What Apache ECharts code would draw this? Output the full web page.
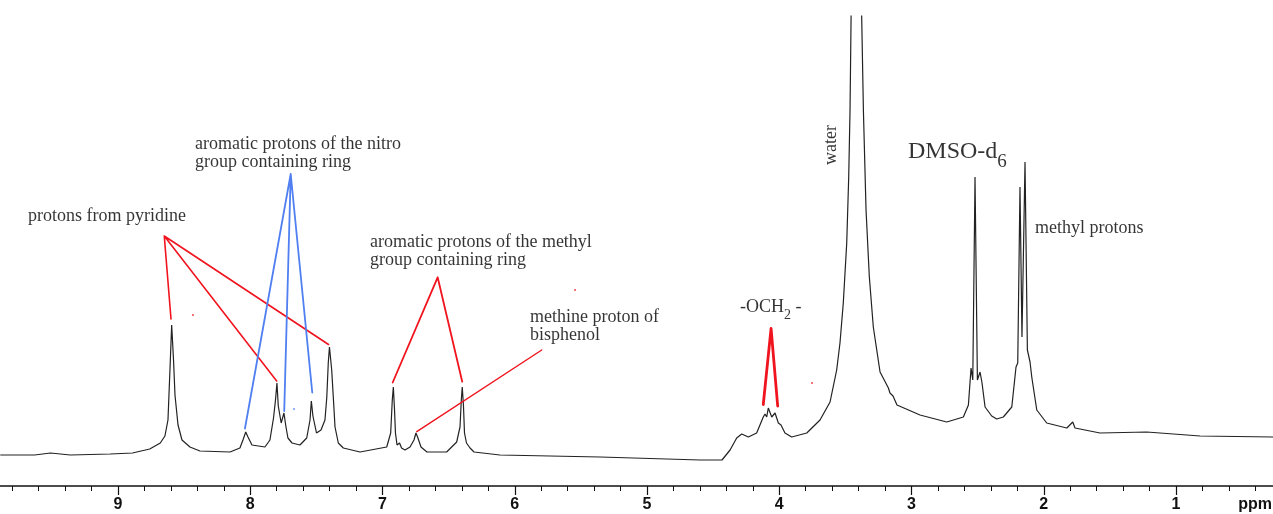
<!DOCTYPE html>
<html>
<head>
<meta charset="utf-8">
<script src="https://cdn.jsdelivr.net/npm/echarts@6/dist/echarts.min.js"></script>
<style>
  html, body { margin: 0; padding: 0; background: #fff; }
  #chart { width: 1273px; height: 514px; }
</style>
</head>
<body>
<div id="chart"></div>
<script>
// chemical shift (ppm) and signal height
const shift = [
  9.89, 9.63, 9.51, 9.36, 9.06, 8.89, 8.76, 8.68, 8.645, 8.622, 8.607, 8.594, 8.580, 8.569, 8.546, 8.516, 8.456, 8.38,
  8.153, 8.078, 8.055, 8.034, 8.017, 7.987, 7.889, 7.851, 7.824, 7.809, 7.798, 7.788, 7.779, 7.766, 7.745, 7.731,
  7.715, 7.684, 7.624, 7.573, 7.548, 7.538, 7.526, 7.499, 7.465, 7.435, 7.421, 7.410, 7.401, 7.384, 7.372, 7.359,
  7.334, 7.296, 7.17, 6.968, 6.938, 6.926, 6.918, 6.909, 6.902, 6.890, 6.871, 6.856, 6.830, 6.792, 6.762, 6.747,
  6.732, 6.709, 6.664, 6.515, 6.439, 6.414, 6.404, 6.397, 6.388, 6.380, 6.365, 6.353, 6.338, 6.308, 6.112, 5.355,
  4.599, 4.433, 4.372, 4.322, 4.284, 4.234, 4.171, 4.121, 4.108, 4.095, 4.083, 4.057, 4.032, 4.007, 3.987, 3.957,
  3.906, 3.792, 3.692, 3.616, 3.566, 3.541, 3.516, 3.490, 3.475, 3.465, 3.457, 3.420, 3.377, 3.364, 3.344, 3.319,
  3.289, 3.238, 3.175, 3.163, 3.140, 3.110, 2.936, 2.734, 2.608, 2.570, 2.550, 2.537, 2.520, 2.502, 2.482, 2.467,
  2.444, 2.394, 2.356, 2.306, 2.242, 2.210, 2.197, 2.180, 2.165, 2.142, 2.124, 2.104, 2.091, 2.053, 1.978, 1.826,
  1.781, 1.764, 1.575, 1.222, 0.818, 0.267
];
const signal = [
  31, 31, 33, 31, 32, 33, 37, 43, 50, 66, 116, 161, 126, 91, 61, 46, 39, 35,
  34, 38, 46, 54, 49, 41, 39, 46, 68, 86, 103, 80, 82, 63, 73, 60,
  48, 43, 41, 48, 66, 85, 70, 53, 56, 66, 89, 123, 139, 116, 89, 59,
  43, 38, 34, 39, 53, 86, 99, 76, 53, 41, 43, 38, 36, 39, 46, 53,
  48, 39, 34, 34, 44, 59, 86, 99, 81, 53, 43, 45, 38, 34, 31, 29,
  26, 26, 36, 48, 52, 49, 53, 69, 72, 69, 78, 69, 73, 63, 61, 53,
  49, 53, 66, 84, 116, 143, 183, 243, 309, 376, 470, 690, 470, 376, 276, 209,
  159, 114, 98, 93, 90, 81, 71, 64, 69, 81, 118, 106, 309, 106, 114, 103,
  79, 70, 67, 69, 79, 119, 123, 299, 149, 324, 136, 124, 109, 76, 63, 58,
  64, 58, 53, 54, 50, 49
];

// axis ticks
const majorTicks = [1, 2, 3, 4, 5, 6, 7, 8, 9];
const minorTicks = [
  0.4, 0.6, 0.8, 1.0, 1.2, 1.4, 1.6, 1.8, 2.0, 2.2, 2.4, 2.6, 2.8, 3.0, 3.2, 3.4, 3.6, 3.8, 4.0, 4.2, 4.4, 4.6, 4.8, 5.0,
  5.2, 5.4, 5.6, 5.8, 6.0, 6.2, 6.4, 6.6, 6.8, 7.0, 7.2, 7.4, 7.6, 7.8, 8.0, 8.2, 8.4, 8.6, 8.8, 9.0, 9.2, 9.4, 9.6, 9.8
];

// annotation leaders: [ppm, height] pairs, each fan returns to its apex
const pyridineLeaders = [[8.650, 250], [8.599, 167], [8.650, 250], [7.800, 105], [8.650, 250], [7.408, 141.5]];
const nitroLeaders = [[7.694, 312], [8.040, 57.5], [7.694, 312], [7.743, 75], [7.694, 312], [7.531, 93.5]];
const methylRingLeaders = [[6.583, 208.7], [6.923, 103.5], [6.583, 208.7], [6.397, 104.3]];
const methineLeader = [[5.796, 136], [6.741, 54.3]];
const och2Leaders = [[4.062, 157.7], [4.121, 81.5], [4.062, 157.7], [4.012, 80]];
const redSpecks = [[8.433, 171], [5.544, 196], [3.752, 103]];
const blueSpecks = [[7.669, 77]];

// annotation texts and where they sit
const notes = [
  { text: 'protons from pyridine', at: [9.681, 270] },
  { text: 'aromatic protons of the nitro\ngroup containing ring', at: [8.418, 333] },
  { text: 'aromatic protons of the methyl\ngroup containing ring', at: [7.095, 235] },
  { text: 'methine proton of\nbisphenol', at: [5.885, 160] },
  { text: '{m|-OCH}{s|2}{m| -}', at: [4.297, 178] },
  { text: '{b|DMSO-d}{t|6}', at: [3.027, 333] },
  { text: 'methyl protons', at: [2.066, 258] }
];
const waterNote = { text: 'water', at: [3.605, 341] };

const RED = '#f0141e';
const BLUE = '#4f7ff0';
const INK = '#000';
const SERIF = 'Liberation Serif';

const chart = echarts.init(document.getElementById('chart'));

function leader(data, color, width) {
  return {
    type: 'line', data: data, symbol: 'none', silent: true, z: 3,
    lineStyle: { color: color, width: width, cap: 'round', join: 'round' }
  };
}

const xBase = {
  type: 'value', inverse: true, min: 0.267, max: 9.892, position: 'bottom',
  splitLine: { show: false }
};

chart.setOption({
  animation: false,
  backgroundColor: '#fff',
  grid: { left: 0, right: 0, top: 16, bottom: 28, outerBoundsMode: 'none' },
  xAxis: [
    Object.assign({}, xBase, {
      axisLine: { show: true, lineStyle: { color: '#111', width: 1.5 } },
      axisTick: { show: true, customValues: minorTicks, length: 5, lineStyle: { color: '#111', width: 1 } },
      axisLabel: { show: false }
    }),
    Object.assign({}, xBase, {
      axisLine: { show: false },
      axisTick: { show: true, customValues: majorTicks, length: 9, lineStyle: { color: '#111', width: 1.2 } },
      axisLabel: {
        show: true, customValues: majorTicks, margin: 11,
        color: '#111', fontFamily: 'Liberation Sans', fontWeight: 'bold', fontSize: 16
      }
    })
  ],
  yAxis: { type: 'value', min: 0, max: 470, show: false },
  graphic: [{
    type: 'text', right: 1, top: 497,
    style: { text: 'ppm', fill: '#111', font: 'bold 16px "Liberation Sans"' }
  }],
  series: [
    {
      type: 'line', name: 'spectrum', clip: true, symbol: 'none', silent: true, z: 2,
      data: shift.map((p, i) => [p, signal[i]]),
      lineStyle: { color: '#222', width: 1.2 }
    },
    leader(pyridineLeaders, RED, 1.6),
    leader(nitroLeaders, BLUE, 1.8),
    leader(methylRingLeaders, RED, 1.8),
    leader(methineLeader, RED, 1.4),
    leader(och2Leaders, RED, 2.8),
    {
      type: 'scatter', data: redSpecks, symbolSize: 2, silent: true,
      itemStyle: { color: RED }
    },
    {
      type: 'scatter', data: blueSpecks, symbolSize: 2, silent: true,
      itemStyle: { color: BLUE }
    },
    {
      type: 'scatter', silent: true, symbolSize: 0, z: 5,
      data: notes.map(n => ({
        value: n.at,
        label: { formatter: n.text }
      })),
      label: {
        show: true, position: 'right', distance: 0,
        color: INK, fontFamily: SERIF, fontSize: 18, lineHeight: 18,
        rich: {
          m: { fontFamily: SERIF, fontSize: 18, color: INK, verticalAlign: 'top', lineHeight: 20 },
          s: { fontFamily: SERIF, fontSize: 14, color: INK, verticalAlign: 'top', lineHeight: 14, padding: [10, 0, 0, 0] },
          b: { fontFamily: SERIF, fontSize: 24, color: INK, verticalAlign: 'top', lineHeight: 26 },
          t: { fontFamily: SERIF, fontSize: 19, color: INK, verticalAlign: 'top', lineHeight: 19, padding: [13, 0, 0, 0] }
        }
      }
    },
    {
      type: 'scatter', silent: true, symbolSize: 0, z: 5,
      data: [{ value: waterNote.at }],
      label: {
        show: true, position: 'inside', rotate: 90, formatter: waterNote.text,
        color: INK, fontFamily: SERIF, fontSize: 18
      }
    }
  ]
});
</script>
</body>
</html>
